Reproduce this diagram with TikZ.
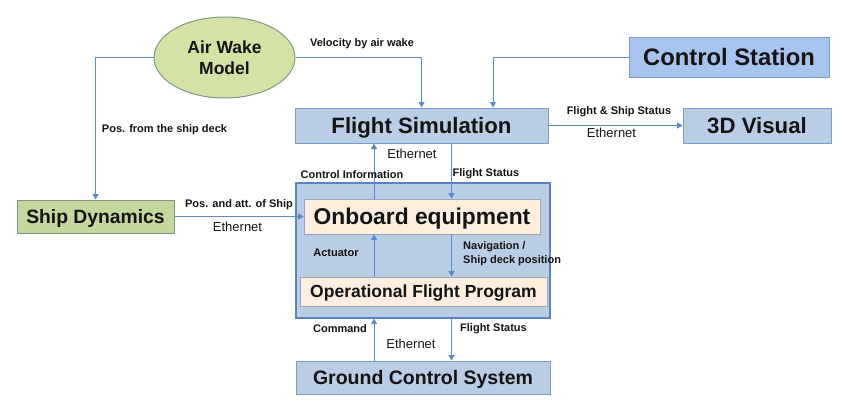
\documentclass[tikz,border=0pt]{standalone}
\usepackage{fontspec}
\setmainfont{Liberation Sans}
\usetikzlibrary{arrows.meta,shapes.geometric}
\definecolor{bluefill}{HTML}{B9CDE5}
\definecolor{blueline}{HTML}{7A9CC8}
\definecolor{csfill}{HTML}{A7C4EE}
\definecolor{outerline}{HTML}{5A84C0}
\definecolor{peach}{HTML}{FDEEDD}
\definecolor{peachline}{HTML}{9AA7B8}
\definecolor{greenfill}{HTML}{D5E2A6}
\definecolor{sdfill}{HTML}{C4D79C}
\definecolor{greenline}{HTML}{7E9A86}
\definecolor{arrowc}{HTML}{5B8AC6}
\definecolor{txt}{HTML}{141414}
\tikzset{
  capc/.style={text height=#1, text depth=0pt},
  box/.style={draw=blueline, fill=bluefill, line width=1pt, inner sep=0pt, text=txt},
  inbox/.style={draw=peachline, fill=peach, line width=0.8pt, inner sep=0pt, text=txt},
  arr/.style={draw=arrowc, line width=1pt, -{Triangle[width=6pt,length=5.5pt]}},
  lbl/.style={font=\fontsize{11}{12}\selectfont\bfseries, inner sep=0pt, text=txt},
  eth/.style={font=\fontsize{13}{15}\selectfont, inner sep=0pt, text=txt},
}
\begin{document}
\begin{tikzpicture}[x=1pt,y=-1pt]
\useasboundingbox (0,0) rectangle (842,416);
% outer container
\node[draw=outerline, fill=bluefill, line width=1.3pt, minimum width=254pt, minimum height=135pt, inner sep=0pt] (obc) at (423,250.5) {};
% nodes
\node[ellipse, draw=greenline, fill=greenfill, line width=1pt, minimum width=141pt, minimum height=81pt, inner sep=0pt, align=center, text=txt, font=\fontsize{17.5}{20.5}\selectfont\bfseries] (aw) at (224.5,57.5) {Air Wake\\Model};
\node[draw=greenline, fill=sdfill, line width=1pt, minimum width=157pt, minimum height=33pt, inner sep=0pt, text=txt, capc=13.8pt, font=\fontsize{19.3}{22}\selectfont\bfseries] (sd) at (95.5,216.5) {Ship Dynamics};
\node[box, capc=15.9pt, minimum width=253pt, minimum height=35pt, font=\fontsize{22.2}{24}\selectfont\bfseries] (fs) at (421.5,125.5) {Flight Simulation};
\node[box, capc=17pt, fill=csfill, minimum width=200pt, minimum height=40pt, font=\fontsize{23.8}{26}\selectfont\bfseries] (cs) at (729,57) {Control Station};
\node[box, capc=15.9pt, minimum width=148pt, minimum height=35pt, font=\fontsize{22.2}{26}\selectfont\bfseries] (vis) at (757,125.5) {3D Visual};
\node[inbox, capc=16.3pt, minimum width=236pt, minimum height=35pt, font=\fontsize{22.8}{24}\selectfont\bfseries] (ob) at (422,216.5) {Onboard equipment};
\node[inbox, capc=12.5pt, minimum width=247pt, minimum height=29pt, font=\fontsize{17.5}{20}\selectfont\bfseries] (ofp) at (423.5,291.5) {Operational Flight Program};
\node[box, capc=14pt, minimum width=254pt, minimum height=33pt, font=\fontsize{19.5}{22}\selectfont\bfseries] (gcs) at (423,377.5) {Ground Control System};
% helper coordinates
\coordinate (xa) at (374,0);
\coordinate (xb) at (451.5,0);
\coordinate (xc) at (493,0);
% connectors
\draw[arr] (aw.west) -| (sd.north);
\draw[arr] (aw.east) -| (fs.north);
\draw[arr] (cs.west) -| (fs.north -| xc);
\draw[arr] (fs.east) -- (vis.west);
\draw[arr] (sd.east) -- (ob.west);
\draw[arr] (ob.north -| xa) -- (fs.south -| xa);
\draw[arr] (fs.south -| xb) -- (ob.north -| xb);
\draw[arr] (ofp.north -| xa) -- (ob.south -| xa);
\draw[arr] (ob.south -| xb) -- (ofp.north -| xb);
\draw[arr] (gcs.north -| xa) -- (obc.south -| xa);
\draw[arr] (obc.south -| xb) -- (gcs.north -| xb);
% labels
\node[lbl] (l1) at (362,44) {Velocity by air wake};
\node[lbl] (l2) at (164.5,130) {Pos. from the ship deck};
\node[lbl] (l3) at (619,111.5) {Flight \& Ship Status};
\node[eth] (e1) at (611.5,133) {Ethernet};
\node[eth] (e2) at (412,153.5) {Ethernet};
\node[lbl] (l4) at (352,175) {Control Information};
\node[lbl] (l5) at (486,174) {Flight Status};
\node[lbl] (l6) at (239,205) {Pos. and att. of Ship};
\node[eth] (e3) at (237.5,226.5) {Ethernet};
\node[lbl] (l7) at (336,252.5) {Actuator};
\node[lbl, anchor=west, align=left, font=\fontsize{11}{14}\selectfont\bfseries] (l8) at (463,254) {Navigation /\\Ship deck position};
\node[lbl] (l9) at (340,328.5) {Command};
\node[lbl] (l10) at (493.5,328.5) {Flight Status};
\node[eth] (e4) at (411,343.5) {Ethernet};
\end{tikzpicture}
\end{document}
